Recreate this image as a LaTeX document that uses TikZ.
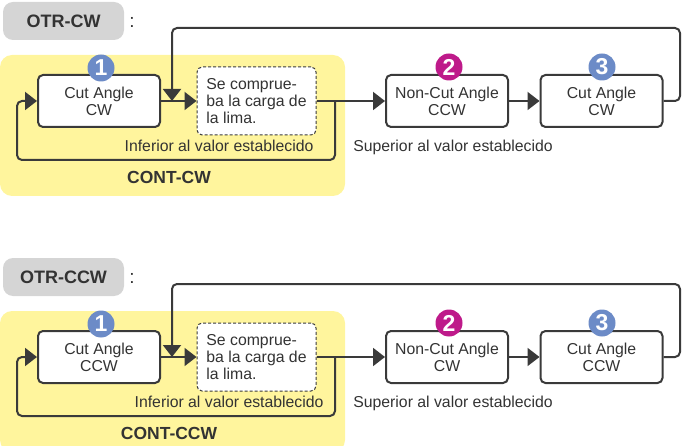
\documentclass[tikz,border=0pt]{standalone}
\usepackage{fontspec}
\setmainfont{Liberation Sans}
\usetikzlibrary{arrows.meta}
\definecolor{linegray}{HTML}{3A3A3A}
\definecolor{textgray}{HTML}{333333}
\definecolor{labelgray}{HTML}{D5D5D5}
\definecolor{contyellow}{HTML}{FFF59D}
\definecolor{stepblue}{HTML}{6C8BC7}
\definecolor{stepmagenta}{HTML}{BE1A8A}
\begin{document}
\begin{tikzpicture}[x = 1pt, y = -1pt, text = textgray,
    font = \fontsize{15.8}{17}\selectfont,
    box/.style = {draw = linegray, line width = 2pt, rounded corners = 5pt,
                  fill = white, minimum width = 122pt, minimum height = 52pt,
                  align = center, inner sep = 0pt},
    checkbox/.style = {draw = linegray, line width = 1pt,
                       dash pattern = on 3pt off 2pt, rounded corners = 5pt,
                       fill = white, minimum width = 119pt, minimum height = 68pt,
                       align = left, inner sep = 0pt},
    otrlabel/.style = {fill = labelgray, rounded corners = 10pt,
                       minimum width = 121pt, minimum height = 38pt,
                       font = \fontsize{18}{18}\selectfont\bfseries},
    num/.style = {circle, fill = #1, text = white, minimum size = 27pt,
                  inner sep = 0pt, font = \fontsize{23}{23}\selectfont\bfseries},
    flow/.style = {draw = linegray, line width = 2pt, rounded corners = 5pt},
    tip/.style = {-{Triangle[length = 12pt, width = 18pt]}}]
  \useasboundingbox (0,0) rectangle (682,446);
  \begin{scope}
  \clip (0,0) rectangle (682,446);
  \foreach \i/\dy/\dir/\rev/\dx in {a/0/CW/CCW/0, b/256/CCW/CW/10} {
    \begin{scope}[shift = {(0,\dy)}]
      % mode label
      \node [otrlabel] (otr\i) at (63.5,21) {OTR-\dir};
      \node [font = \fontsize{19}{19}\selectfont] (colon\i) at (132,22) {:};
      % continuous zone
      \fill [contyellow, rounded corners = 12pt] (0,55) rectangle (345,196);
      \node [font = \fontsize{17.5}{17.5}\selectfont\bfseries] (cont\i) at (169,177) {CONT-\dir};
      % steps
      \node [box] (b1\i) at (99,101) {Cut Angle\\\dir};
      \node [checkbox] (chk\i) at (256.5,101) {Se comprue-\\ba la carga de\\la lima.};
      \node [box] (b2\i) at (447,101) {Non-Cut Angle\\\rev};
      \node [box] (b3\i) at (601.5,101) {Cut Angle\\\dir};
      \node [num = stepblue] (n1\i) at (101,68) {1};
      \node [num = stepmagenta] (n2\i) at (449,67) {2};
      \node [num = stepblue] (n3\i) at (602,67) {3};
      \node [anchor = east] (low\i) at (317+\dx,146) {Inferior al valor establecido};
      \node (high\i) at (453,147) {Superior al valor establecido};
      % connectors
      \coordinate (split\i) at (335,101);
      \coordinate (loop\i) at (17,160);
      \coordinate (ret\i) at (680,28);
      \coordinate (join\i) at (172,101);
      \draw [flow, tip] (b1\i.east) -- (chk\i.west);
      \draw [flow] (chk\i.east) -- (split\i);
      \draw [flow, tip] (split\i) -- (b2\i.west);
      \draw [flow, tip] (split\i) |- (loop\i) |- (b1\i.west);
      \draw [flow, tip] (b2\i.east) -- (b3\i.west);
      \draw [flow, tip] (b3\i.east) -| (ret\i) -| (join\i);
    \end{scope}
  }
  \end{scope}
\end{tikzpicture}
\end{document}
